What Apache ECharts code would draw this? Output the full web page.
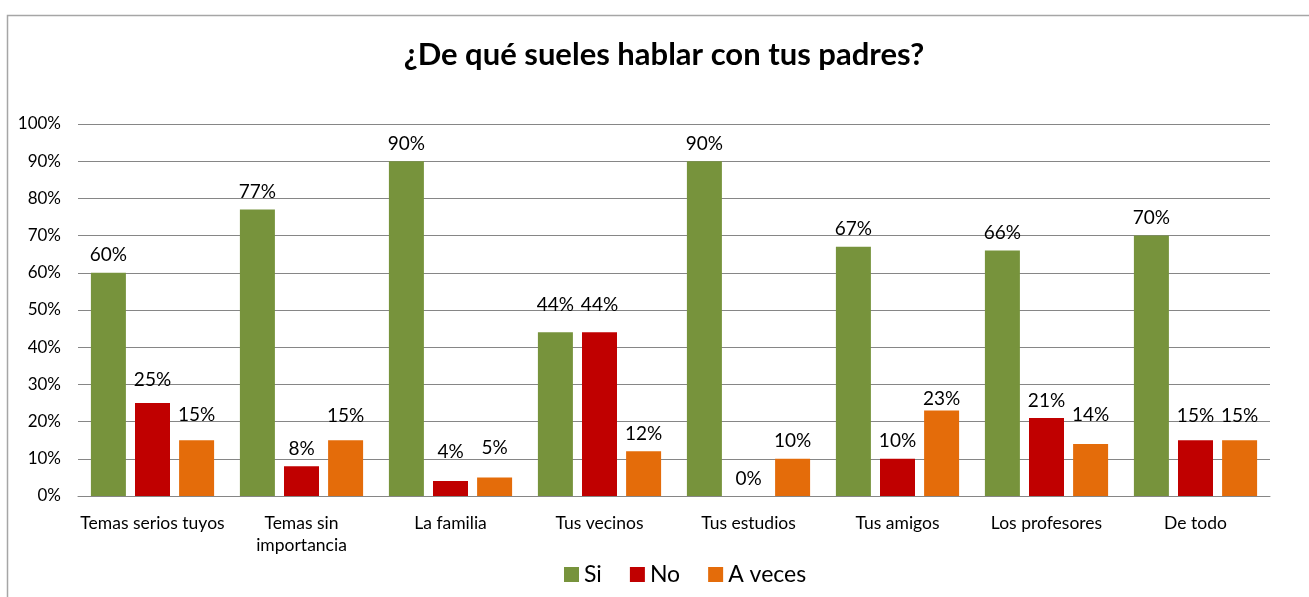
<!DOCTYPE html>
<html><head><meta charset="utf-8">
<script src="https://cdn.jsdelivr.net/npm/echarts@6/dist/echarts.min.js"></script>
<style>html,body{margin:0;padding:0;background:#fff}#c{width:1309px;height:597px}</style>
</head><body><div id="c"></div>
<script>
const categories = ["Temas serios tuyos","Temas sin\nimportancia","La familia","Tus vecinos","Tus estudios","Tus amigos","Los profesores","De todo"];
const si = [60,77,90,44,90,67,66,70];
const no = [25,8,4,44,0,10,21,15];
const aVeces = [15,15,5,12,10,23,14,15];
const yTicks = [0,10,20,30,40,50,60,70,80,90,100];
// extra upward label shifts (px), as in the original's hand-placed labels
const siShift = [0,0,0,10,0,0,0,0];
const noShift = [6,0,12,10,0,0,0,7];
const avShift = [8,7,12,0,0,-6,12,7];

const FONT = 'Lato, "Open Sans", sans-serif';
const chart = echarts.init(document.getElementById('c'));
const lbl = {show:true, position:'top', formatter:'{c}%', color:'#000', fontSize:19, fontFamily:FONT, distance:8};
const mk = (vals, shifts) => vals.map((v,i)=>({value:v, label:{offset:[0,-shifts[i]]}}));
chart.setOption({
  animation:false,
  graphic:[{type:'rect', shape:{x:7.5,y:15.5,width:1400,height:700}, style:{fill:'none', stroke:'#a6a6a6', lineWidth:1.5}, z:-1}],
  title:{text:'¿De qué sueles hablar con tus padres?', left:659, textAlign:'center', top:34,
    textStyle:{fontFamily:FONT, fontWeight:'bold', fontSize:31, color:'#000'}},
  grid:{left:78, right:39, top:124, bottom:101},
  legend:{bottom:6, left:559, itemWidth:15, itemHeight:15, itemGap:28, icon:'rect',
    textStyle:{fontFamily:FONT, fontSize:23, color:'#000'}, data:['Si','No','A veces']},
  xAxis:{type:'category', data:categories, axisTick:{show:false},
    axisLine:{lineStyle:{color:'#868686', width:1}},
    axisLabel:{fontFamily:FONT, fontSize:17.5, color:'#000', margin:16, lineHeight:22, interval:0}},
  yAxis:{type:'value', min:0, max:100, interval:10,
    axisLabel:{formatter:v=>yTicks.includes(v)?v+'%':'', fontFamily:FONT, fontSize:17, color:'#000', margin:17},
    splitLine:{lineStyle:{color:'#868686', width:1}}, axisLine:{show:false}, axisTick:{show:false}},
  series:[
    {name:'Si', type:'bar', data:mk(si,siShift), barWidth:35, barGap:'26%', itemStyle:{color:'#77933C'}, label:lbl},
    {name:'No', type:'bar', data:mk(no,noShift), barWidth:35, barGap:'26%', itemStyle:{color:'#C00000'}, label:lbl},
    {name:'A veces', type:'bar', data:mk(aVeces,avShift), barWidth:35, barGap:'26%', itemStyle:{color:'#E46C0A'}, label:lbl}
  ]
});
</script></body></html>
